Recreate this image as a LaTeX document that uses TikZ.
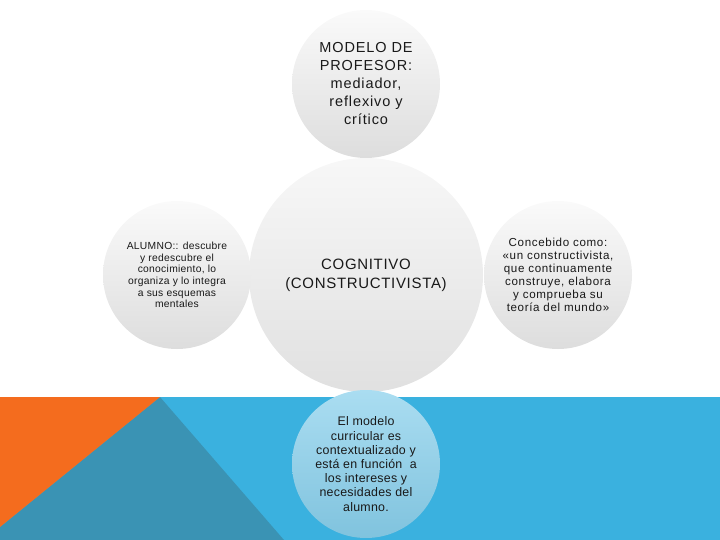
\documentclass[tikz,border=0pt]{standalone}
\usepackage{fontspec}
\setmainfont{Liberation Sans}
\definecolor{bandblue}{HTML}{3AB1DF}
\definecolor{bandteal}{HTML}{3A93B4}
\definecolor{bandorange}{HTML}{F46C1E}
\definecolor{bubbletop}{HTML}{FAFAFA}
\definecolor{bubblebot}{HTML}{DDDDDD}
\definecolor{waterTop}{HTML}{AADDF1}
\definecolor{waterBot}{HTML}{80C3DE}
\newcommand\bubblefont[3]{\fontsize{#1}{#2}\selectfont\addfontfeatures{LetterSpace=#3}}
\begin{document}
\begin{tikzpicture}[x=1pt, y=-1pt, line join=round, line cap=round,
	bubble/.style={circle, inner sep=0pt, align=center, text=black!90, top color=bubbletop, bottom color=bubblebot},
	water/.style={bubble, top color=waterTop, bottom color=waterBot}]
	\def\r{74}
	\useasboundingbox (0,0) rectangle (720,540);
	% banda inferior
	\fill[bandblue] (0,397) rectangle (720,540);
	\fill[bandteal] (160,397) -- (284,540) -- (0,540) -- (0,527) -- cycle;
	\fill[bandorange] (0,397) -- (160,397) -- (0,527) -- cycle;
	% circulos
	\node[bubble, minimum size=2*\r, font=\bubblefont{14.5}{18}{6}] (profesor) at (366,84)
		{MODELO DE\\PROFESOR:\\mediador,\\reflexivo y\\crítico};
	\node[bubble, minimum size=234, top color=white!97!black, bottom color=black!12,
		font=\bubblefont{15}{19}{4.5}] (modelo) at (366,275)
		{COGNITIVO\\(CONSTRUCTIVISTA)};
	\node[bubble, minimum size=2*\r, font=\bubblefont{10.3}{11.7}{2.8}] (alumno) at (177,275)
		{ALUMNO:: descubre\\y redescubre el\\conocimiento, lo\\organiza y lo integra\\a sus esquemas\\mentales};
	\node[bubble, minimum size=2*\r, font=\bubblefont{11.6}{13}{5.5}] (concepto) at (558,275)
		{Concebido como:\\«un constructivista,\\que continuamente\\construye, elabora\\y comprueba su\\teoría del mundo»};
	\node[water, minimum size=2*\r, font=\bubblefont{12.4}{14.2}{2}] (curriculo) at (366,464)
		{El modelo\\curricular es\\contextualizado y\\está en función~ a\\los intereses y\\necesidades del\\alumno.};
\end{tikzpicture}
\end{document}
